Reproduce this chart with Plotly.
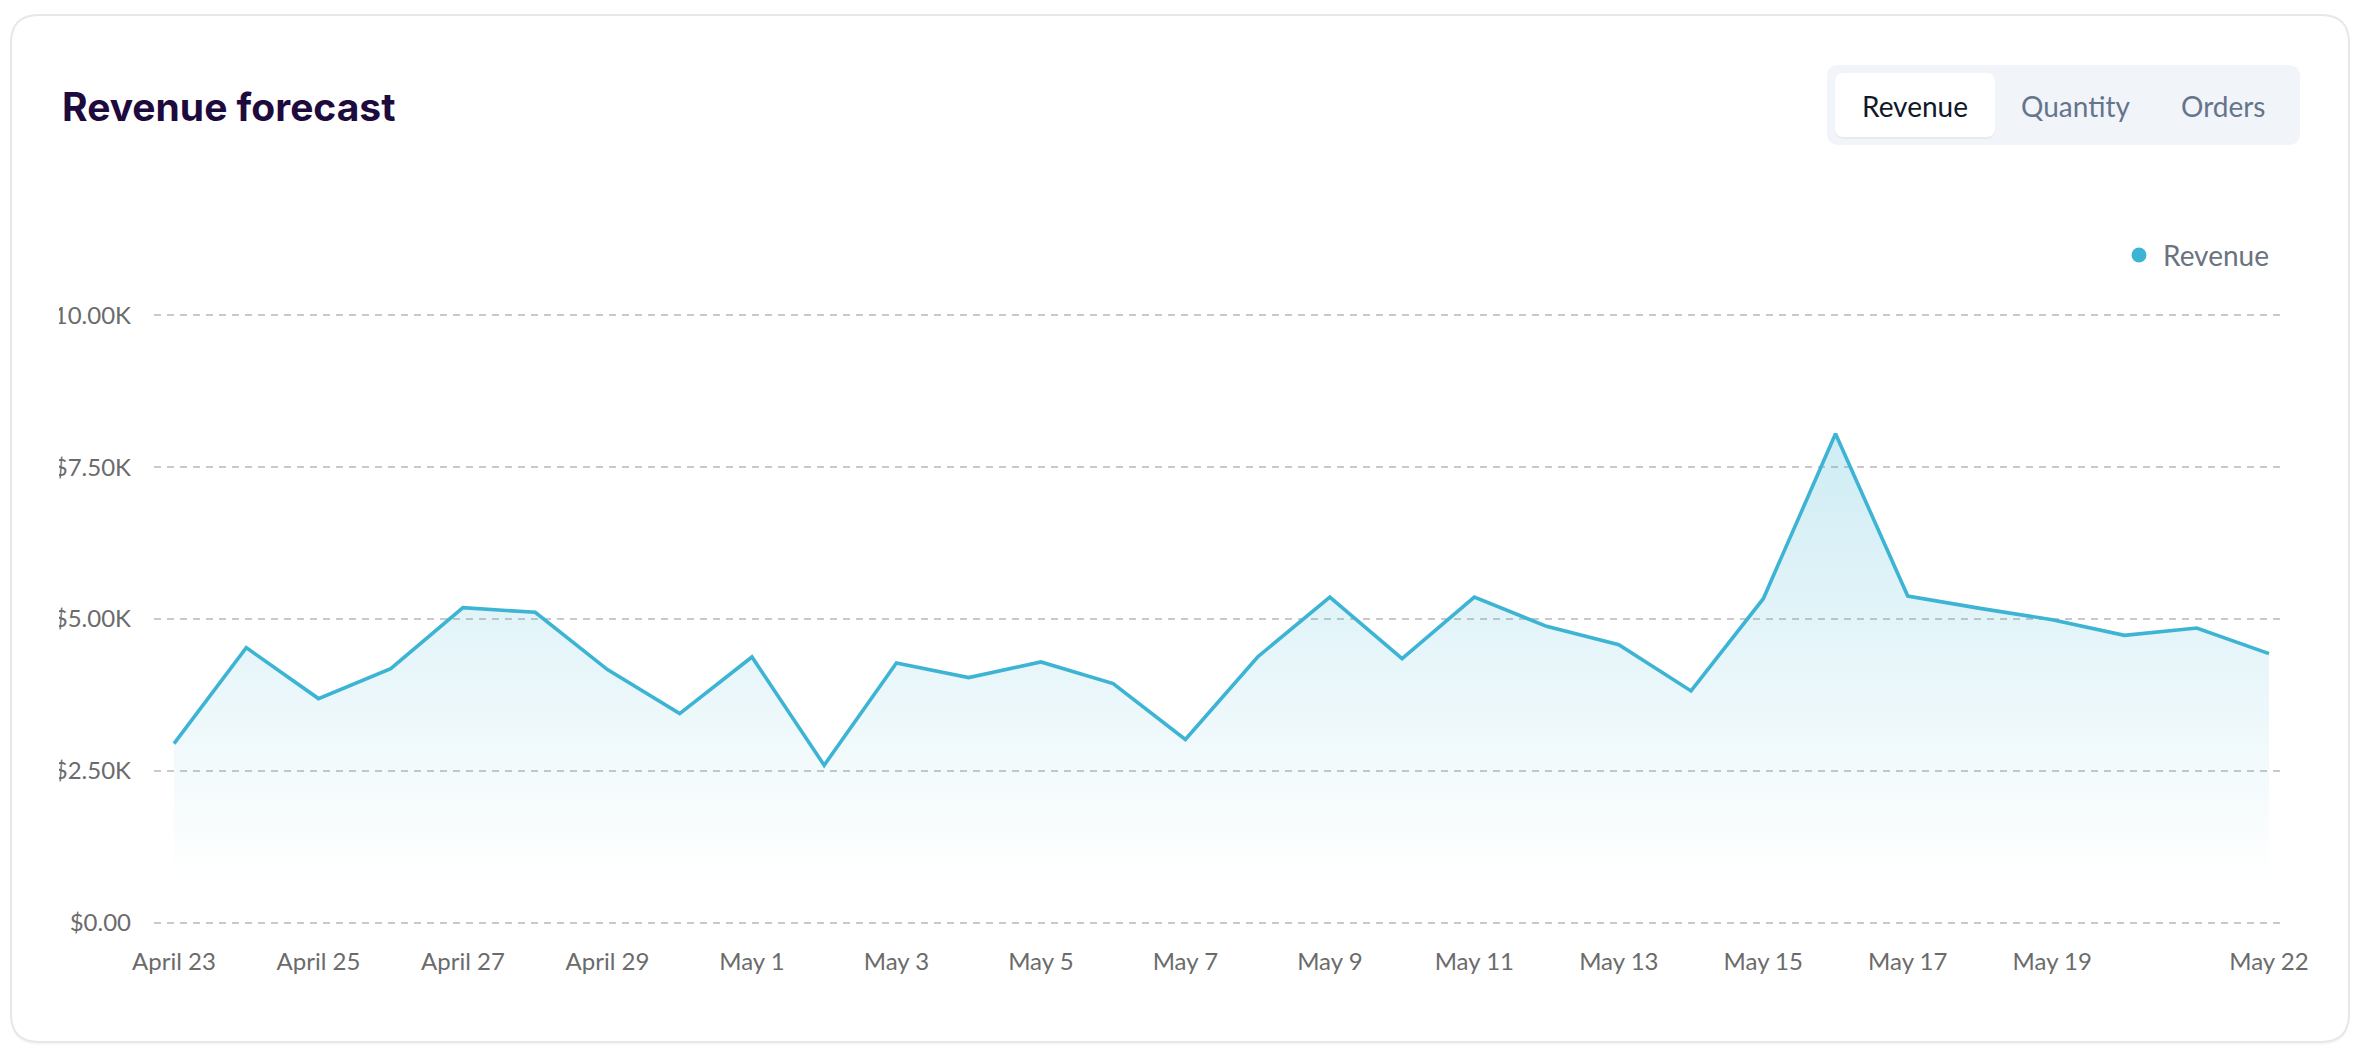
import plotly.graph_objects as go

# ---------------- data ----------------
dates = ["April 23", "April 24", "April 25", "April 26", "April 27", "April 28",
         "April 29", "April 30", "May 1", "May 2", "May 3", "May 4", "May 5",
         "May 6", "May 7", "May 8", "May 9", "May 10", "May 11", "May 12",
         "May 13", "May 14", "May 15", "May 16", "May 17", "May 18", "May 19",
         "May 20", "May 21", "May 22"]
revenue = [2950, 4529, 3690, 4183, 5186, 5110, 4167, 3443, 4375, 2593,
           4276, 4035, 4293, 3937, 3016, 4375, 5362, 4348, 5362, 4879,
           4578, 3816, 5334, 8048, 5378, 5175, 4989, 4731, 4852, 4430]
x_tick_labels = ["April 23", "April 25", "April 27", "April 29", "May 1", "May 3",
                 "May 5", "May 7", "May 9", "May 11", "May 13", "May 15",
                 "May 17", "May 19", "May 22"]
y_tick_values = [0, 2500, 5000, 7500, 10000]
y_tick_labels = ["$0.00", "$2.50K", "$5.00K", "$7.50K", "$10.00K"]
tab_labels = ["Revenue", "Quantity", "Orders"]
title_text = "Revenue forecast"
series_name = "Revenue"

# ---------------- geometry (pixels) ----------------
W, H = 2366, 1056
L, R = 154, 2284
T, B = 314, 924          # plot area slightly padded so edge gridlines render
Y_MIN, Y_MAX = -20, 10020

LINE = "#3db4d3"


def px(x):
    return (x - L) / (R - L)


def py(y):
    return (B - y) / (B - T)


def rounded(x0, y0, x1, y1, r):
    pts = [
        ("M", px(x0 + r), py(y0)),
        ("L", px(x1 - r), py(y0)),
        ("Q", px(x1), py(y0), px(x1), py(y0 + r)),
        ("L", px(x1), py(y1 - r)),
        ("Q", px(x1), py(y1), px(x1 - r), py(y1)),
        ("L", px(x0 + r), py(y1)),
        ("Q", px(x0), py(y1), px(x0), py(y1 - r)),
        ("L", px(x0), py(y0 + r)),
        ("Q", px(x0), py(y0), px(x0 + r), py(y0)),
    ]
    s = ""
    for p in pts:
        cmd = p[0]
        nums = p[1:]
        if cmd == "Q":
            s += f"Q{nums[0]:.5f},{nums[1]:.5f} {nums[2]:.5f},{nums[3]:.5f} "
        else:
            s += f"{cmd}{nums[0]:.5f},{nums[1]:.5f} "
    return s + "Z"


fig = go.Figure()
fig.add_trace(go.Scatter(
    x=dates, y=revenue, mode="lines", name=series_name,
    line=dict(color=LINE, width=3.6),
    fill="tozeroy",
    fillgradient=dict(type="vertical",
                      colorscale=[[0, "rgba(61,180,211,0)"], [1, "rgba(61,180,211,0.25)"]],
                      start=700, stop=8048),
    showlegend=False, hoverinfo="x+y",
))

shapes = [
    # card shadow + card
    dict(type="path", xref="paper", yref="paper", path=rounded(11, 17, 2349, 1045, 28),
         fillcolor="rgba(0,0,0,0.03)", line=dict(width=0), layer="below"),
    dict(type="path", xref="paper", yref="paper", path=rounded(11, 15, 2349, 1042, 28),
         fillcolor="white", line=dict(color="#e6e7eb", width=2), layer="below"),
    # tab container
    dict(type="path", xref="paper", yref="paper", path=rounded(1827, 65, 2300, 145, 12),
         fillcolor="#f1f4f9", line=dict(width=0), layer="below"),
    dict(type="path", xref="paper", yref="paper", path=rounded(1835, 74, 1995, 139, 9),
         fillcolor="rgba(0,0,0,0.04)", line=dict(width=0), layer="below"),
    dict(type="path", xref="paper", yref="paper", path=rounded(1835, 73, 1995, 137, 9),
         fillcolor="white", line=dict(width=0), layer="below"),
    # legend dot
    dict(type="circle", xref="paper", yref="paper",
         x0=px(2131.5), x1=px(2146.5), y0=py(262.5), y1=py(247.5),
         fillcolor=LINE, line=dict(width=0)),
    # left clip of y labels
    dict(type="rect", xref="paper", yref="paper",
         x0=px(13), x1=px(59), y0=py(960), y1=py(280),
         fillcolor="white", line=dict(width=0), layer="above"),
]

annotations = [
    dict(text=f"<b>{title_text}</b>", x=px(60), y=py(106), xref="paper", yref="paper",
         xanchor="left", yanchor="middle", showarrow=False,
         font=dict(family="Inter", size=39, color="#1e0b3e")),
    dict(text=tab_labels[0], x=px(1915), y=py(106), xref="paper", yref="paper",
         xanchor="center", yanchor="middle", showarrow=False,
         font=dict(family="Lato", size=28, color="#111827")),
    dict(text=tab_labels[1], x=px(2075), y=py(106), xref="paper", yref="paper",
         xanchor="center", yanchor="middle", showarrow=False,
         font=dict(family="Lato", size=28, color="#64748b")),
    dict(text=tab_labels[2], x=px(2223), y=py(106), xref="paper", yref="paper",
         xanchor="center", yanchor="middle", showarrow=False,
         font=dict(family="Lato", size=28, color="#64748b")),
    dict(text=series_name, x=px(2161), y=py(255), xref="paper", yref="paper",
         xanchor="left", yanchor="middle", showarrow=False,
         font=dict(family="Lato", size=28, color="#6b7280")),
]

fig.update_layout(
    width=W, height=H,
    margin=dict(l=L, r=W - R, t=T, b=H - B, pad=0),
    paper_bgcolor="white", plot_bgcolor="rgba(0,0,0,0)",
    shapes=shapes, annotations=annotations,
    font=dict(family="Lato", size=24, color="#6b6b6b"),
    showlegend=False,
    xaxis=dict(type="category", range=[-0.277, 29.208], showgrid=False, zeroline=False,
               showline=False, ticks="", tickmode="array", tickvals=x_tick_labels,
               ticktext=x_tick_labels, tickangle=0, ticklabelstandoff=21,
               tickfont=dict(family="Lato", size=24, color="#6b6b6b"), fixedrange=True),
    yaxis=dict(range=[Y_MIN, Y_MAX], showgrid=True, gridcolor="#c9c9c9", gridwidth=1.5,
               griddash="7px,6px", zeroline=False, showline=False, ticks="",
               tickmode="array", tickvals=y_tick_values, ticktext=y_tick_labels,
               ticklabelstandoff=22,
               tickfont=dict(family="Lato", size=24, color="#6b6b6b"), fixedrange=True),
)

fig.write_html("out.html", config={"displayModeBar": False},
               post_script="document.body.style.margin='0';document.body.style.overflow='hidden';")
